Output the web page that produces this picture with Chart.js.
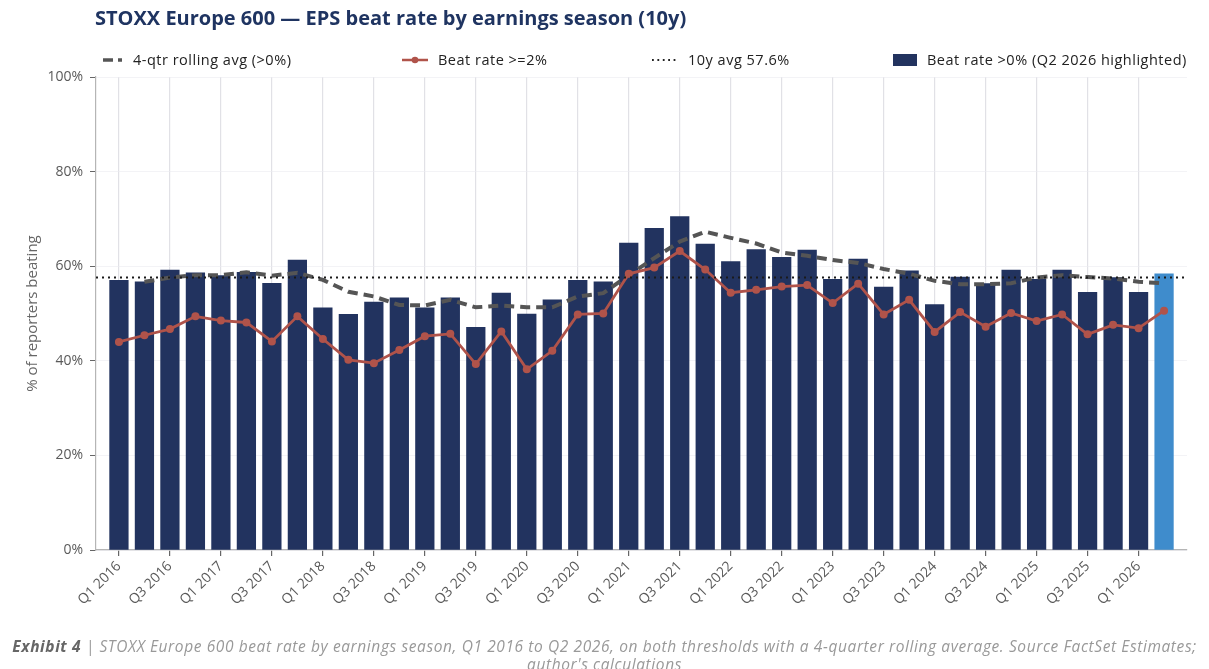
<!DOCTYPE html>
<html>
<head>
<meta charset="utf-8">
<script src="https://cdn.jsdelivr.net/npm/chart.js@4.4.1/dist/chart.umd.min.js"></script>
<style>
  html, body { margin: 0; padding: 0; background: #fff; }
  body { width: 1209px; height: 669px; position: relative; overflow: hidden; font-family: "Open Sans", sans-serif; }
  #wrap { position: absolute; left: 0; top: 0; width: 1209px; height: 669px; }
  .title { position: absolute; left: 95px; top: 4px; font: bold 20px "Open Sans", sans-serif; color: #1f3461; }
  .legend span { position: absolute; top: 50px; display: inline-flex; align-items: center; gap: 10px; white-space: nowrap; font-size: 14.5px; letter-spacing: 0.5px; color: #222; }
  .caption { position: absolute; left: 0; top: 637px; width: 1209px; text-align: center; font-size: 15.5px; letter-spacing: 0.6px; font-style: italic; color: #999; line-height: 18px; }
  .caption b { color: #666; }
</style>
</head>
<body>
<div id="wrap"><canvas id="chart" width="1209" height="669"></canvas></div>
<div class="title">STOXX Europe 600 — EPS beat rate by earnings season (10y)</div>
<div class="legend">
  <span style="left:103px"><svg width="20" height="10"><line x1="0" y1="5" x2="10" y2="5" stroke="#555" stroke-width="3.5"/><line x1="15" y1="5" x2="19" y2="5" stroke="#555" stroke-width="3.5"/></svg>4-qtr rolling avg (&gt;0%)</span>
  <span style="left:402px"><svg width="26" height="10"><line x1="0" y1="5" x2="26" y2="5" stroke="#b0534a" stroke-width="2.5"/><circle cx="13" cy="5" r="3.3" fill="#b0534a"/></svg>Beat rate &gt;=2%</span>
  <span style="left:652px"><svg width="26" height="10"><line x1="0" y1="5" x2="26" y2="5" stroke="#222" stroke-width="1.8" stroke-dasharray="1.8,3.6"/></svg>10y avg 57.6%</span>
  <span style="left:893px"><svg width="24" height="12"><rect x="0" y="0" width="24" height="12" fill="#22335f"/></svg>Beat rate &gt;0% (Q2 2026 highlighted)</span>
</div>
<div class="caption"><b>Exhibit 4</b> | STOXX Europe 600 beat rate by earnings season, Q1 2016 to Q2 2026, on both thresholds with a 4-quarter rolling average. Source FactSet Estimates;<br>author's calculations</div>
<script>
const quarters = [
  'Q1 2016', 'Q2 2016', 'Q3 2016', 'Q4 2016', 'Q1 2017', 'Q2 2017', 'Q3 2017', 'Q4 2017',
  'Q1 2018', 'Q2 2018', 'Q3 2018', 'Q4 2018', 'Q1 2019', 'Q2 2019', 'Q3 2019', 'Q4 2019',
  'Q1 2020', 'Q2 2020', 'Q3 2020', 'Q4 2020', 'Q1 2021', 'Q2 2021', 'Q3 2021', 'Q4 2021',
  'Q1 2022', 'Q2 2022', 'Q3 2022', 'Q4 2022', 'Q1 2023', 'Q2 2023', 'Q3 2023', 'Q4 2023',
  'Q1 2024', 'Q2 2024', 'Q3 2024', 'Q4 2024', 'Q1 2025', 'Q2 2025', 'Q3 2025', 'Q4 2025',
  'Q1 2026', 'Q2 2026'
];

// beat rate >0% (bars)
const beatAbove0 = [
  57.0, 56.7, 59.2, 58.6, 58.0, 58.7, 56.4, 61.3, 51.2, 49.8, 52.4, 53.3, 51.2, 53.3,
  47.1, 54.3, 49.9, 52.9, 57.0, 56.7, 64.9, 68.0, 70.5, 64.7, 61.0, 63.5, 61.9, 63.4,
  57.2, 61.5, 55.6, 59.0, 51.9, 57.7, 56.3, 59.2, 57.2, 59.2, 54.5, 57.6, 54.5, 58.4
];

// beat rate >=2% (red line)
const beatAbove2 = [
  44.0, 45.4, 46.7, 49.4, 48.5, 48.1, 44.1, 49.4, 44.6, 40.2, 39.5, 42.3, 45.2, 45.7,
  39.3, 46.2, 38.2, 42.1, 49.8, 50.0, 58.4, 59.7, 63.2, 59.3, 54.4, 55.0, 55.7, 56.0,
  52.2, 56.3, 49.8, 52.9, 46.1, 50.3, 47.2, 50.1, 48.4, 49.8, 45.6, 47.6, 46.9, 50.6
];

// 4-quarter rolling average of the >0% rate (dashed)
const rolling4q = [
  null, 56.7, 57.6, 58.1, 58.1, 58.7, 58.0, 58.6, 57.1, 54.6, 53.6, 51.8, 51.7, 52.9,
  51.3, 51.7, 51.3, 51.3, 53.6, 54.3, 58.1, 61.7, 65.2, 67.3, 66.0, 64.8, 62.9, 62.2,
  61.3, 60.7, 59.4, 58.4, 56.9, 56.2, 56.2, 56.4, 57.6, 58.1, 57.7, 57.4, 56.7, 56.4
];

const tenYearAvg = 57.6;
const highlightIdx = quarters.indexOf('Q2 2026');

const navy = '#22335f';
const highlight = '#3f8ccc';
const red = '#b0534a';
const dashGray = '#555555';
const tickGray = '#5a5a5a';

const pts = (arr) => arr.map((v, i) => ({ x: i, y: v }));

new Chart(document.getElementById('chart'), {
  type: 'bar',
  data: {
    datasets: [
      {
        label: '10y avg 57.6%',
        type: 'line',
        xAxisID: 'xAvg',
        data: [{ x: 0, y: tenYearAvg }, { x: 1, y: tenYearAvg }],
        borderColor: '#1a1a1a',
        borderWidth: 2,
        borderDash: [2, 4],
        pointRadius: 0,
        order: 0
      },
      {
        label: 'Beat rate >=2%',
        type: 'line',
        data: pts(beatAbove2),
        borderColor: red,
        backgroundColor: red,
        borderWidth: 2.8,
        pointRadius: 4,
        pointBorderWidth: 0,
        tension: 0,
        order: 1
      },
      {
        label: '4-qtr rolling avg (>0%)',
        type: 'line',
        data: pts(rolling4q),
        borderColor: dashGray,
        borderWidth: 4,
        borderDash: [10, 6],
        pointRadius: 0,
        tension: 0,
        order: 2
      },
      {
        label: 'Beat rate >0% (Q2 2026 highlighted)',
        data: pts(beatAbove0),
        backgroundColor: beatAbove0.map((_, i) => (i === highlightIdx ? highlight : navy)),
        barThickness: 18.6,
        grouped: false,
        order: 3
      }
    ]
  },
  options: {
    responsive: false,
    animation: false,
    layout: { padding: { top: 77, left: 0, right: 22, bottom: 0 } },
    plugins: { legend: { display: false }, tooltip: { enabled: false } },
    scales: {
      x: {
        type: 'linear',
        min: -0.9,
        max: 41.9,
        offset: false,
        z: 1,
        afterFit: (s) => { s.height = 119; },
        border: { color: '#b5b5b5', width: 1.2 },
        grid: { offset: false, color: 'rgba(215,215,222,0.75)', lineWidth: 1.2, tickColor: '#666', tickLength: 6 },
        ticks: {
          stepSize: 2,
          includeBounds: false,
          autoSkip: false,
          minRotation: 45,
          maxRotation: 45,
          padding: 2,
          color: tickGray,
          font: { family: 'Open Sans', size: 14 },
          callback: (v) => quarters[v] ?? null
        }
      },
      xAvg: { type: 'linear', min: 0, max: 1, display: false, offset: false },
      y: {
        min: 0,
        max: 100,
        z: 1,
        afterFit: (s) => { s.width = 96; },
        border: { color: '#b5b5b5', width: 1.2 },
        grid: { color: 'rgba(235,235,240,0.6)', tickColor: '#666', tickLength: 6 },
        ticks: {
          stepSize: 20,
          padding: 7,
          color: tickGray,
          font: { family: 'Open Sans', size: 14 },
          callback: (v) => `${v}%`
        },
        title: {
          display: true,
          text: '% of reporters beating',
          color: '#666',
          font: { family: 'Open Sans', size: 15 },
          padding: { top: 24, bottom: 0 }
        }
      }
    }
  }
});
</script>
</body>
</html>
